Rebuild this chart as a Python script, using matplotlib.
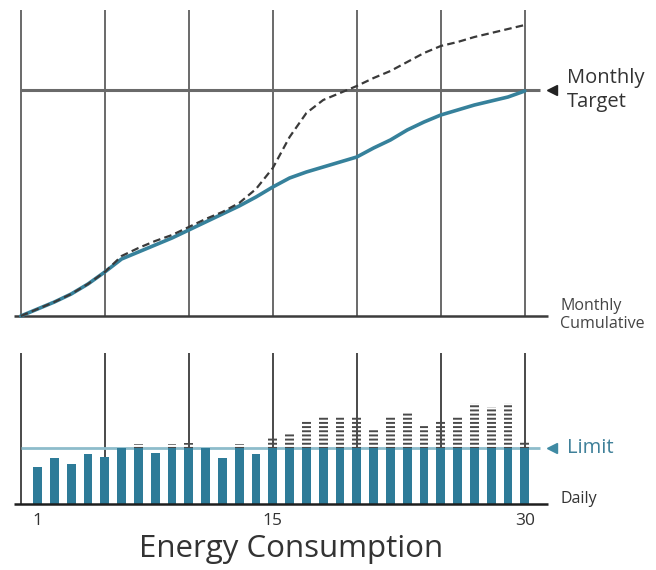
import numpy as np
import matplotlib
matplotlib.use('Agg')
import matplotlib.pyplot as plt

plt.rcParams['font.family'] = ['Open Sans', 'DejaVu Sans']
plt.rcParams['hatch.color'] = '#4a4a4a'
plt.rcParams['hatch.linewidth'] = 1.4

# cumulative energy per day (day 0..30), arbitrary units
cum_days = list(range(0, 31))
cum_limited = [0, 7, 14, 22, 32, 44, 57, 64, 71, 78, 86, 94, 102, 110, 119, 129,
               138, 144, 149, 154, 159, 168, 176, 186, 194, 201, 206, 211, 215, 219, 225]
cum_unlimited = [0, 7, 14, 22, 32, 44, 60, 68, 75, 81, 89, 97, 104, 113, 127, 148,
                 179, 203, 216, 223, 230, 238, 245, 254, 263, 270, 274, 279, 283, 287, 291]
monthly_target = 226

# daily energy use (day 1..30)
days = list(range(1, 31))
daily_use = [37, 46, 40, 50, 47, 56, 60, 51, 60, 61, 56, 46, 60, 50, 66,
             71, 84, 87, 87, 87, 75, 87, 92, 78, 84, 87, 101, 97, 101, 62]
daily_limit = 56

grid_days = [0, 5, 10, 15, 20, 25, 30]
tick_days = [1, 15, 30]

teal = '#36819b'
bar_teal = '#2e7b98'
gray = '#5e5e5e'

fig = plt.figure(figsize=(6.56, 5.70), dpi=100)
xlim = (-20.8 / 16.8, (656 - 20.8) / 16.8)

# ---- top panel: monthly cumulative
ax1 = fig.add_axes([0, 240 / 570, 1, 330 / 570])
ax1.set_xlim(*xlim)
ax1.set_ylim(-14, 316)
ax1.axis('off')

ax1.vlines(grid_days, 0, 306, color=gray, lw=1.3, zorder=1)
ax1.hlines(0, -0.4, 31.4, color='#3c3c3c', lw=1.8, zorder=2)
ax1.hlines(monthly_target, 0, 30.9, color='#6a6a6a', lw=2.2, zorder=2)
ax1.plot([31.6], [monthly_target], marker='<', ms=7, color='#222222', zorder=3)
ax1.plot(cum_days, cum_limited, color=teal, lw=2.6, solid_capstyle='round', zorder=4)
ax1.plot(cum_days, cum_unlimited, color='#3a3a3a', lw=1.6, dashes=(3.4, 1.9), zorder=5)
ax1.text(32.5, monthly_target, 'Monthly\nTarget', fontsize=14.5, color='#333333',
         ha='left', va='center', linespacing=1.3)
ax1.text(32.1, 1, 'Monthly\nCumulative', fontsize=11.5, color='#444444',
         ha='left', va='center', linespacing=1.25)

# ---- bottom panel: daily consumption
ax2 = fig.add_axes([0, 0, 1, 230 / 570])
ax2.set_xlim(*xlim)
ax2.set_ylim(-66, 164)
ax2.axis('off')

capped = np.minimum(daily_use, daily_limit)
excess = np.maximum(np.array(daily_use) - daily_limit, 0)

ax2.vlines(grid_days, 0, 151, color='#3c3c3c', lw=1.3, zorder=1)
ax2.hlines(daily_limit, 0, 30.9, color='#8dbccb', lw=2, zorder=1)
ax2.bar(days, capped, width=0.52, color=bar_teal, zorder=2)
ax2.bar(days, excess, bottom=daily_limit, width=0.52, facecolor='none',
        hatch='----', zorder=3)
ax2.hlines(0, -0.4, 31.4, color='#1e1e1e', lw=1.8, zorder=4)
ax2.plot([31.6], [daily_limit], marker='<', ms=7, color='#3f8aa3', zorder=3)
ax2.text(32.5, daily_limit, 'Limit', fontsize=14.5, color='#3f8099',
         ha='left', va='center')
ax2.text(32.1, 5, 'Daily', fontsize=11.5, color='#333333', ha='left', va='center')

for d in tick_days:
    ax2.text(d, -17, str(d), fontsize=12.5, color='#333333', ha='center', va='center')

ax2.text(16.1, -45, 'Energy Consumption', fontsize=22.5, color='#333333',
         ha='center', va='center')

fig.savefig('out.png', dpi=100, facecolor='white')
